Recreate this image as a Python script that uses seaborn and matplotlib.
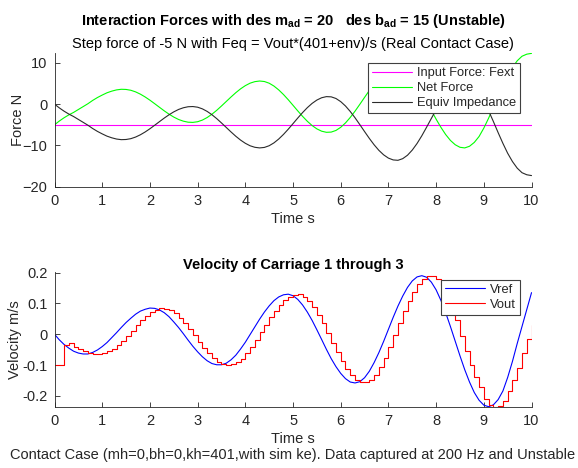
import numpy as np
import pandas as pd
import matplotlib
matplotlib.use("Agg")
import matplotlib.pyplot as plt
import seaborn as sns

# ---------------- data ----------------
time_s = [round(0.1 * i, 1) for i in range(101)]

fext = [-5.0] * 101

equiv_impedance = [
    0.0, -0.9, -1.7, -2.4, -3.0, -3.7, -4.4, -5.1, -5.9, -6.6,
    -7.2, -7.75, -8.15, -8.45, -8.6, -8.56, -8.36, -7.97, -7.42, -6.74,
    -5.96, -5.11, -4.24, -3.38, -2.58, -1.87, -1.29, -0.88, -0.63, -0.58,
    -0.74, -1.14, -1.76, -2.56, -3.50, -4.55, -5.64, -6.73, -7.77, -8.70,
    -9.48, -10.08, -10.45, -10.6, -10.48, -10.07, -9.38, -8.45, -7.33, -6.07,
    -4.72, -3.36, -2.05, -0.85, 0.18, 0.99, 1.55, 1.82, 1.77, 1.37,
    0.61, -0.45, -1.78, -3.30, -4.95, -6.64, -8.30, -9.84, -11.19, -12.28,
    -13.07, -13.51, -13.6, -13.2, -12.37, -11.12, -9.53, -7.66, -5.59, -3.46,
    -1.36, 0.61, 2.36, 3.79, 4.83, 5.45, 5.6, 5.20, 4.27, 2.84,
    0.8, -1.6, -4.2, -6.9, -9.5, -11.9, -13.9, -15.5, -16.6, -17.1,
    -17.3,
]

net_force = [
    -5.0, -4.1, -3.3, -2.6, -2.0, -1.3, -0.6, 0.1, 0.9, 1.6,
    2.2, 2.75, 3.15, 3.45, 3.6, 3.56, 3.36, 2.97, 2.42, 1.74,
    0.96, 0.11, -0.76, -1.62, -2.42, -3.13, -3.71, -4.12, -4.37, -4.42,
    -4.26, -3.86, -3.24, -2.44, -1.50, -0.45, 0.64, 1.73, 2.77, 3.70,
    4.48, 5.08, 5.45, 5.6, 5.48, 5.07, 4.38, 3.45, 2.33, 1.07,
    -0.28, -1.64, -2.95, -4.15, -5.18, -5.99, -6.55, -6.82, -6.77, -6.37,
    -5.61, -4.55, -3.22, -1.70, -0.05, 1.64, 3.30, 4.84, 6.19, 7.28,
    8.07, 8.51, 8.6, 8.2, 7.37, 6.12, 4.53, 2.66, 0.59, -1.54,
    -3.64, -5.61, -7.36, -8.79, -9.83, -10.45, -10.6, -10.20, -9.27, -7.84,
    -5.8, -3.4, -0.8, 1.9, 4.5, 6.9, 8.9, 10.5, 11.6, 12.1,
    12.3,
]

vref = [
    0.0, -0.018, -0.033, -0.045, -0.055, -0.061, -0.064, -0.064, -0.059, -0.051,
    -0.040, -0.027, -0.011, 0.005, 0.022, 0.038, 0.052, 0.065, 0.075, 0.081,
    0.085, 0.084, 0.079, 0.070, 0.057, 0.040, 0.022, 0.002, -0.019, -0.039,
    -0.057, -0.073, -0.086, -0.095, -0.099, -0.099, -0.094, -0.083, -0.068, -0.048,
    -0.026, -0.001, 0.024, 0.049, 0.072, 0.092, 0.109, 0.121, 0.128, 0.130,
    0.125, 0.113, 0.095, 0.072, 0.045, 0.0145, -0.017, -0.049, -0.079, -0.105,
    -0.127, -0.144, -0.155, -0.158, -0.154, -0.141, -0.120, -0.092, -0.0595, -0.023,
    0.016, 0.055, 0.0915, 0.124, 0.152, 0.173, 0.186, 0.190, 0.185, 0.169,
    0.144, 0.110, 0.070, 0.025, -0.0225, -0.070, -0.115, -0.155, -0.189, -0.214,
    -0.230, -0.235, -0.229, -0.212, -0.184, -0.140, -0.088, -0.030, 0.025, 0.080,
    0.135,
]

vout = [
    -0.100, -0.100, -0.036, -0.030, -0.040, -0.047, -0.053, -0.060, -0.064, -0.064,
    -0.060, -0.055, -0.047, -0.036, -0.022, -0.005, 0.012, 0.030, 0.046, 0.060,
    0.072, 0.080, 0.084, 0.083, 0.078, 0.068, 0.054, 0.037, 0.017, -0.004,
    -0.025, -0.045, -0.062, -0.077, -0.089, -0.097, -0.100, -0.098, -0.091, -0.079,
    -0.062, -0.042, -0.019, 0.006, 0.031, 0.055, 0.077, 0.096, 0.111, 0.122,
    0.128, 0.129, 0.122, 0.108, 0.089, 0.064, 0.036, 0.005, -0.027, -0.058,
    -0.087, -0.112, -0.133, -0.148, -0.156, -0.156, -0.148, -0.132, -0.107, -0.076,
    -0.040, -0.002, 0.037, 0.074, 0.108, 0.138, 0.162, 0.179, 0.188, 0.189,
    0.180, 0.160, 0.130, 0.092, 0.045, -0.005, -0.055, -0.100, -0.138, -0.170,
    -0.210, -0.230, -0.235, -0.233, -0.215, -0.185, -0.150, -0.108, -0.062, -0.015,
    0.030,
]

force_ticks = [-20, -10, 0, 10]
vel_ticks = [-0.2, -0.1, 0, 0.1, 0.2]
vel_tick_labels = ["-0.2", "-0.1", "0", "0.1", "0.2"]
time_ticks = list(range(0, 11))

# ---------------- style ----------------
sns.set_style("ticks")
plt.rcParams["font.family"] = ["Liberation Sans", "DejaVu Sans"]
plt.rcParams["mathtext.fontset"] = "custom"
plt.rcParams["mathtext.rm"] = "Liberation Sans"
plt.rcParams["mathtext.bf"] = "Liberation Sans:bold"
plt.rcParams["mathtext.it"] = "Liberation Sans:italic"

AX_COL = "#262626"
FS = 10.5

fig = plt.figure(figsize=(5.78, 4.68), dpi=100)
fig.patch.set_facecolor("white")
ax1 = fig.add_axes([0.0943, 0.601, 0.8253, 0.285])
ax2 = fig.add_axes([0.0943, 0.131, 0.8253, 0.2885])

df_f = pd.DataFrame({"t": time_s, "fext": fext, "net": net_force, "eq": equiv_impedance})
df_v = pd.DataFrame({"t": time_s, "vref": vref, "vout": vout})

lw = 0.8
sns.lineplot(data=df_f, x="t", y="fext", ax=ax1, color="#ff00ff", lw=lw,
             label="Input Force: Fext", estimator=None, errorbar=None, sort=False)
sns.lineplot(data=df_f, x="t", y="net", ax=ax1, color="#00ff00", lw=lw,
             label="Net Force", estimator=None, errorbar=None, sort=False)
sns.lineplot(data=df_f, x="t", y="eq", ax=ax1, color="#2a2a2a", lw=lw,
             label="Equiv Impedance", estimator=None, errorbar=None, sort=False)

sns.lineplot(data=df_v, x="t", y="vref", ax=ax2, color="#0000ff", lw=lw,
             label="Vref", estimator=None, errorbar=None, sort=False)
sns.lineplot(data=df_v, x="t", y="vout", ax=ax2, color="#ff0000", lw=lw,
             label="Vout", estimator=None, errorbar=None, sort=False,
             drawstyle="steps-post")

for ax in (ax1, ax2):
    ax.set_xlim(0, 10)
    ax.set_xticks(time_ticks)
    ax.spines["top"].set_visible(False)
    ax.spines["right"].set_visible(False)
    for s in ("left", "bottom"):
        ax.spines[s].set_color(AX_COL)
        ax.spines[s].set_linewidth(0.6)
    ax.tick_params(direction="in", length=3.5, width=0.6, color=AX_COL,
                   labelcolor=AX_COL, labelsize=FS, pad=5)
    ax.set_xlabel("Time s", fontsize=FS, color=AX_COL, labelpad=3)
    ax.set_facecolor("white")

ax1.set_ylim(-20, 12.3)
ax1.set_yticks(force_ticks)
ax1.set_ylabel("Force N", fontsize=FS, color=AX_COL)
ax1.yaxis.set_label_coords(-0.062, 0.5)

ax2.set_ylim(-0.235, 0.203)
ax2.set_yticks(vel_ticks)
ax2.set_yticklabels(vel_tick_labels)
ax2.set_ylabel("Velocity m/s", fontsize=FS, color=AX_COL)
ax2.yaxis.set_label_coords(-0.069, 0.5)

leg_kw = dict(loc="upper right", frameon=True, fancybox=False, framealpha=1,
              edgecolor="#404040", fontsize=9.3, handlelength=3.1,
              borderaxespad=0, borderpad=0.3, labelspacing=0.22,
              handletextpad=0.4)
l1 = ax1.legend(bbox_to_anchor=(0.976, 0.925), **leg_kw)
l2 = ax2.legend(bbox_to_anchor=(0.976, 0.939), **leg_kw)
for lg in (l1, l2):
    lg.get_frame().set_linewidth(0.8)
    for line in lg.get_lines():
        line.set_linewidth(0.8)

cx = 0.0943 + 0.8253 / 2
fig.text(cx, 0.955,
         r"Interaction Forces with des m$_{\mathbf{ad}}$ = 20   des b$_{\mathbf{ad}}$ = 15 (Unstable)",
         ha="center", va="center", fontsize=10.5, fontweight="bold", color="black")
fig.text(cx, 0.905,
         "Step force of -5 N with Feq = Vout*(401+env)/s (Real Contact Case)",
         ha="center", va="center", fontsize=FS, color="black")
fig.text(cx, 0.434, "Velocity of Carriage 1 through 3",
         ha="center", va="center", fontsize=10.5, fontweight="bold", color="black")
fig.text(0.507, 0.027,
         "Contact Case (mh=0,bh=0,kh=401,with sim ke). Data captured at 200 Hz and Unstable",
         ha="center", va="center", fontsize=FS, color=AX_COL)

fig.savefig("out.png", dpi=100, facecolor="white")
